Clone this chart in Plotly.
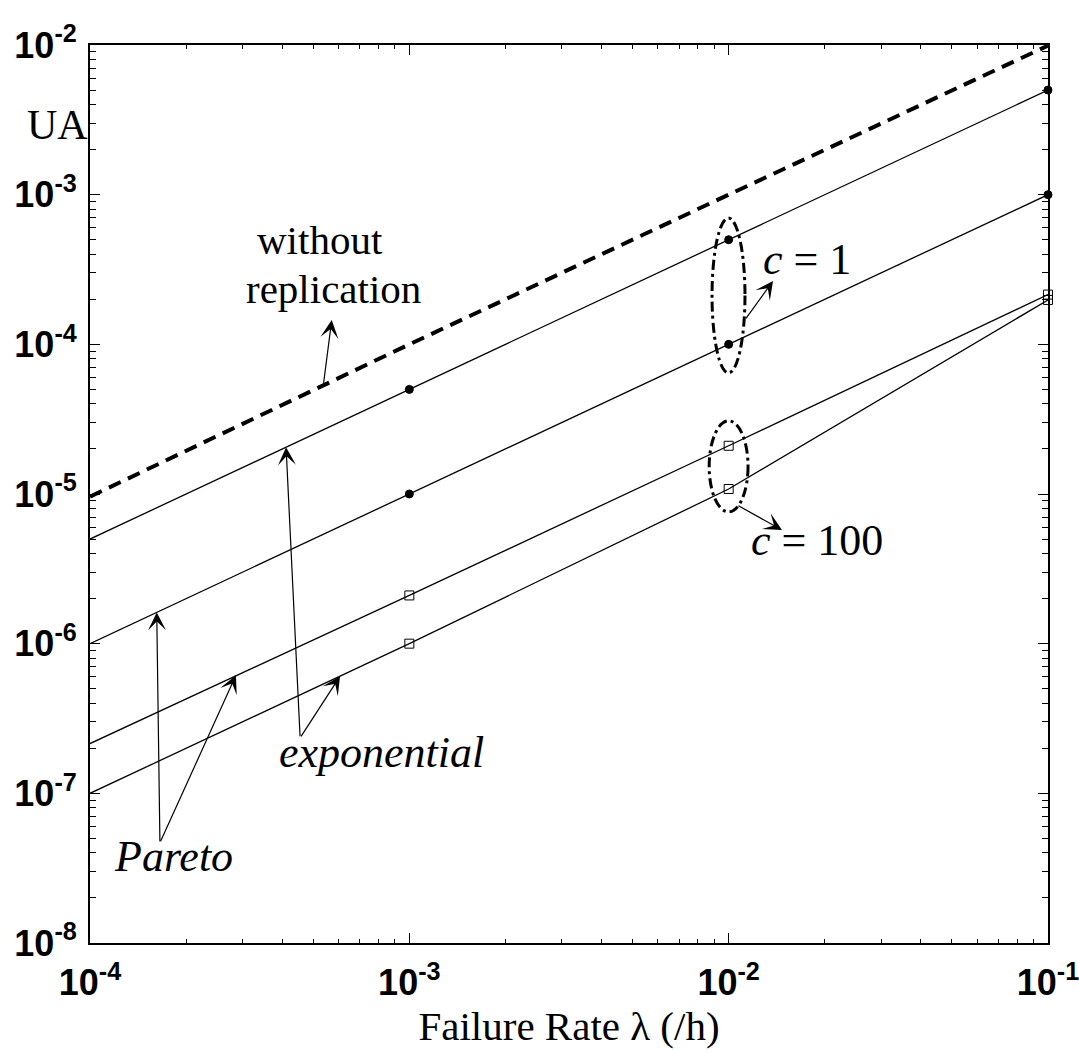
import plotly.graph_objects as go

# Failure rate (per hour) and unavailability of each configuration
lam = [1e-4, 1e-3, 1e-2, 1e-1]
ua_no_replication = [9.6e-6, 1.0e-4, 1.0e-3, 9.9e-3]
ua_c1_exponential = [5e-6, 5e-5, 5e-4, 5e-3]
ua_c1_pareto = [1e-6, 1e-5, 1e-4, 1e-3]
ua_c100_pareto = [2.15e-7, 2.1e-6, 2.1e-5, 2.15e-4]
ua_c100_exponential = [1e-7, 1e-6, 1.08e-5, 1.98e-4]

x_decades = [-4, -3, -2, -1]
y_decades = [-8, -7, -6, -5, -4, -3, -2]
x_ticktext = ["10<sup>-4</sup>", "10<sup>-3</sup>", "10<sup>-2</sup>", "10<sup>-1</sup>"]
y_ticktext = ["10<sup>-8</sup>", "10<sup>-7</sup>", "10<sup>-6</sup>", "10<sup>-5</sup>",
              "10<sup>-4</sup>", "10<sup>-3</sup>", "10<sup>-2</sup>"]

fig = go.Figure()

# without replication (thick dashed)
fig.add_trace(go.Scatter(x=lam, y=ua_no_replication, mode="lines", cliponaxis=False,
                         line=dict(color="black", width=4, dash="13px,8px"),
                         showlegend=False, hoverinfo="skip"))

series = [
    (ua_c1_exponential, "circle"),
    (ua_c1_pareto, "circle"),
    (ua_c100_pareto, "square-open"),
    (ua_c100_exponential, "square-open"),
]
for ua, sym in series:
    fig.add_trace(go.Scatter(x=lam, y=ua, mode="lines", cliponaxis=False,
                             line=dict(color="black", width=1.3),
                             showlegend=False, hoverinfo="skip"))
    size = 8 if sym == "circle" else 9
    fig.add_trace(go.Scatter(x=lam[1:], y=ua[1:], mode="markers", cliponaxis=False,
                             marker=dict(symbol=sym, size=size, color="black",
                                         line=dict(color="black", width=1)),
                             showlegend=False, hoverinfo="skip"))

serif = "Liberation Serif"
annotations = []


def arrow(tip, tail):
    annotations.append(dict(x=tip[0], y=tip[1], ax=tail[0], ay=tail[1],
                            xref="x", yref="y", axref="x", ayref="y",
                            text="", showarrow=True, arrowhead=3, arrowsize=2.5,
                            arrowwidth=1.2, arrowcolor="black",
                            standoff=0, startstandoff=0))


def label(x, y, text, size=41):
    annotations.append(dict(x=x, y=y, xref="x", yref="y", text=text, showarrow=False,
                            font=dict(family=serif, size=size, color="black"),
                            xanchor="center", yanchor="middle"))


# curve labels (positions in log10 units)
label(-3.280, -3.300, "without")
label(-3.236, -3.630, "replication")
arrow((-3.243, -3.837), (-3.270, -4.285))

label(-1.755, -3.430, "<i>c</i> = 1", size=44)
arrow((-1.861, -3.576), (-1.949, -3.837))

label(-1.722, -5.310, "<i>c</i> = 100", size=44)
arrow((-1.833, -5.240), (-1.974, -5.073))

label(-3.086, -6.730, "<i>exponential</i>", size=44)
arrow((-3.386, -4.687), (-3.342, -6.629))
arrow((-3.217, -6.217), (-3.342, -6.629))

label(-3.740, -7.420, "<i>Pareto</i>", size=44)
arrow((-3.791, -5.791), (-3.781, -7.331))
arrow((-3.543, -6.211), (-3.781, -7.331))

# y-axis name
annotations.append(dict(x=-0.034, y=-2.534, xref="paper", yref="y", text="UA",
                        showarrow=False, xanchor="center", yanchor="middle",
                        font=dict(family=serif, size=42, color="black")))

# groups of points at lambda = 1e-2
shapes = [
    dict(type="circle", xref="x", yref="y", x0=8.87e-3, x1=1.125e-2, y0=6.44e-5, y1=6.98e-4,
         line=dict(color="black", width=3, dash="10px,4px,3px,4px")),
    dict(type="circle", xref="x", yref="y", x0=8.69e-3, x1=1.15e-2, y0=7.59e-6, y1=3.08e-5,
         line=dict(color="black", width=3, dash="10px,4px,3px,4px")),
]

x_minor = [m * 10 ** d for d in x_decades[:-1] for m in range(2, 10)]
y_minor = [m * 10 ** d for d in y_decades[:-1] for m in range(2, 10)]

tick_font = dict(family="Liberation Sans", size=36, color="black", weight="bold")

fig.update_layout(
    width=1079, height=1052,
    margin=dict(l=90, r=31, t=45, b=109, autoexpand=False),
    paper_bgcolor="white", plot_bgcolor="white",
    annotations=annotations, shapes=shapes,
    xaxis=dict(type="log", range=[-4, -0.99995], automargin=False,
               tickvals=[10 ** d for d in x_decades], ticktext=x_ticktext,
               ticks="inside", ticklen=10, tickwidth=1.3, tickcolor="black",
               showline=True, linecolor="black", linewidth=2, mirror="ticks",
               showgrid=False, zeroline=False, tickfont=tick_font,
               ticklabeloverflow="allow", ticklabelstandoff=7,
               minor=dict(tickvals=x_minor, ticks="inside", ticklen=4,
                          tickwidth=1.2, tickcolor="black", showgrid=False),
               title=dict(text="Failure Rate λ (/h)", standoff=2,
                          font=dict(family=serif, size=41, color="black"))),
    yaxis=dict(type="log", range=[-8, -1.99995], automargin=False,
               tickvals=[10 ** d for d in y_decades], ticktext=y_ticktext,
               ticks="inside", ticklen=10, tickwidth=1.3, tickcolor="black",
               showline=True, linecolor="black", linewidth=2, mirror="ticks",
               showgrid=False, zeroline=False, tickfont=tick_font,
               ticklabelstandoff=4, ticklabeloverflow="allow",
               minor=dict(tickvals=y_minor, ticks="inside", ticklen=6,
                          tickwidth=1.2, tickcolor="black", showgrid=False)),
)

fig.write_html("out.html")
